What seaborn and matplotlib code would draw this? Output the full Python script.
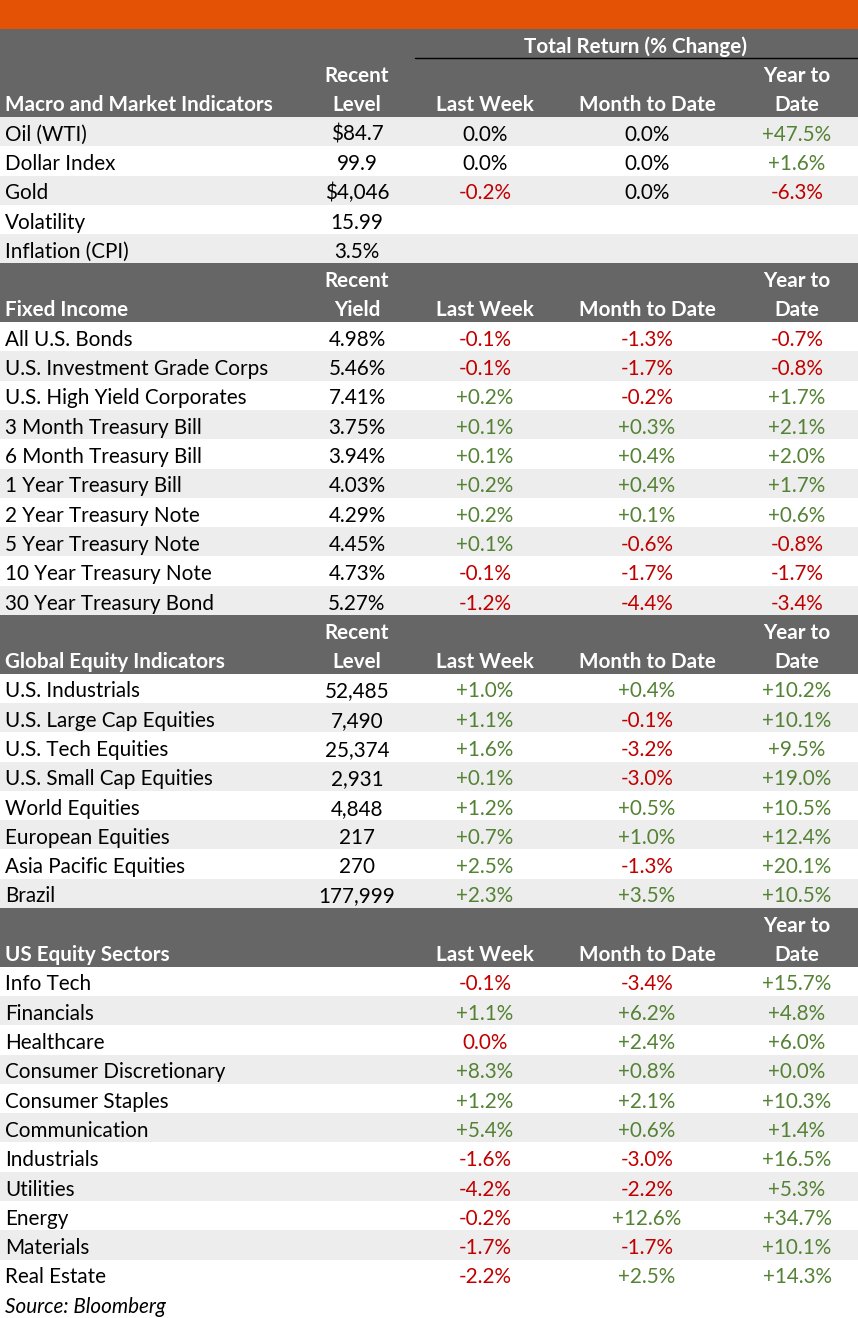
import matplotlib
matplotlib.use("Agg")
import matplotlib.pyplot as plt
import seaborn as sns

# Section 1: macro and market indicators
macro_labels = ["Oil (WTI)", "Dollar Index", "Gold", "Volatility", "Inflation (CPI)"]
macro_recent = ["$84.7", "99.9", "$4,046", "15.99", "3.5%"]
macro_lw = ["0.0%", "0.0%", "-0.2%", "", ""]
macro_mtd = ["0.0%", "0.0%", "0.0%", "", ""]
macro_ytd = ["+47.5%", "+1.6%", "-6.3%", "", ""]

# Section 2: fixed income
fi_labels = ["All U.S. Bonds", "U.S. Investment Grade Corps", "U.S. High Yield Corporates",
             "3 Month Treasury Bill", "6 Month Treasury Bill", "1 Year Treasury Bill",
             "2 Year Treasury Note", "5 Year Treasury Note", "10 Year Treasury Note",
             "30 Year Treasury Bond"]
fi_recent = ["4.98%", "5.46%", "7.41%", "3.75%", "3.94%", "4.03%", "4.29%", "4.45%", "4.73%", "5.27%"]
fi_lw = ["-0.1%", "-0.1%", "+0.2%", "+0.1%", "+0.1%", "+0.2%", "+0.2%", "+0.1%", "-0.1%", "-1.2%"]
fi_mtd = ["-1.3%", "-1.7%", "-0.2%", "+0.3%", "+0.4%", "+0.4%", "+0.1%", "-0.6%", "-1.7%", "-4.4%"]
fi_ytd = ["-0.7%", "-0.8%", "+1.7%", "+2.1%", "+2.0%", "+1.7%", "+0.6%", "-0.8%", "-1.7%", "-3.4%"]

# Section 3: global equity indicators
eq_labels = ["U.S. Industrials", "U.S. Large Cap Equities", "U.S. Tech Equities",
             "U.S. Small Cap Equities", "World Equities", "European Equities",
             "Asia Pacific Equities", "Brazil"]
eq_recent = ["52,485", "7,490", "25,374", "2,931", "4,848", "217", "270", "177,999"]
eq_lw = ["+1.0%", "+1.1%", "+1.6%", "+0.1%", "+1.2%", "+0.7%", "+2.5%", "+2.3%"]
eq_mtd = ["+0.4%", "-0.1%", "-3.2%", "-3.0%", "+0.5%", "+1.0%", "-1.3%", "+3.5%"]
eq_ytd = ["+10.2%", "+10.1%", "+9.5%", "+19.0%", "+10.5%", "+12.4%", "+20.1%", "+10.5%"]

# Section 4: US equity sectors
sec_labels = ["Info Tech", "Financials", "Healthcare", "Consumer Discretionary",
              "Consumer Staples", "Communication", "Industrials", "Utilities",
              "Energy", "Materials", "Real Estate"]
sec_recent = [""] * 11
sec_lw = ["-0.1%", "+1.1%", "0.0%", "+8.3%", "+1.2%", "+5.4%", "-1.6%", "-4.2%", "-0.2%", "-1.7%", "-2.2%"]
sec_mtd = ["-3.4%", "+6.2%", "+2.4%", "+0.8%", "+2.1%", "+0.6%", "-3.0%", "-2.2%", "+12.6%", "-1.7%", "+2.5%"]
sec_ytd = ["+15.7%", "+4.8%", "+6.0%", "+0.0%", "+10.3%", "+1.4%", "+16.5%", "+5.3%", "+34.7%", "+10.1%", "+14.3%"]

# zero values shown in red in the source
red_zero = [("Healthcare", "lw")]

sections = [
    ("Macro and Market Indicators", "Level", macro_labels, macro_recent, macro_lw, macro_mtd, macro_ytd, 0),
    ("Fixed Income", "Yield", fi_labels, fi_recent, fi_lw, fi_mtd, fi_ytd, 1),
    ("Global Equity Indicators", "Level", eq_labels, eq_recent, eq_lw, eq_mtd, eq_ytd, 1),
    ("US Equity Sectors", None, sec_labels, sec_recent, sec_lw, sec_mtd, sec_ytd, 1),
]

ORANGE = "#E35205"
DARK = "#666666"
BAND = "#EDEDED"
GREEN = "#548235"
RED = "#C00000"

sns.set_theme(style="white")
plt.rcParams["font.family"] = ["Lato", "DejaVu Sans"]

W, H = 858, 1318
fig = plt.figure(figsize=(W / 100, H / 100), dpi=100)
ax = fig.add_axes([0, 0, 1, 1])
ax.set_xlim(0, W)
ax.set_ylim(H, 0)
ax.axis("off")

top0 = 29
rh = 29.3
x_label, x_recent, x_lw, x_mtd, x_ytd = 5, 357, 485, 647, 797
fs = 14.9


def row_y(i):
    return top0 + i * rh


def base(i):
    # text baseline inside row i
    return row_y(i + 1) - 5.5


def cell_color(val, label, col):
    if (label, col) in red_zero:
        return RED
    if val.startswith("+"):
        return GREEN
    if val.startswith("-"):
        return RED
    return "black"


ax.axhspan(0, top0, color=ORANGE, lw=0)

r = 0
for si, (title, recent_hdr, labels, recent, lw, mtd, ytd, first_white) in enumerate(sections):
    nh = 3 if si == 0 else 2
    ax.axhspan(row_y(r), row_y(r + nh), color=DARK, lw=0)
    hkw = dict(color="white", fontsize=fs, fontweight="bold", va="baseline")
    if si == 0:
        ax.text(635, base(r), "Total Return (% Change)", ha="center", **hkw)
        ax.plot([415, W], [row_y(r + 1), row_y(r + 1)], color="black", lw=1)
        r += 1
    ax.text(x_label, base(r + 1), title, ha="left", **hkw)
    if recent_hdr:
        ax.text(x_recent, base(r), "Recent", ha="center", **hkw)
        ax.text(x_recent, base(r + 1), recent_hdr, ha="center", **hkw)
    ax.text(x_lw, base(r + 1), "Last Week", ha="center", **hkw)
    ax.text(x_mtd, base(r + 1), "Month to Date", ha="center", **hkw)
    ax.text(x_ytd, base(r), "Year to", ha="center", **hkw)
    ax.text(x_ytd, base(r + 1), "Date", ha="center", **hkw)
    r += 2
    for k, lab in enumerate(labels):
        if (k + first_white) % 2 == 0:
            ax.axhspan(row_y(r), row_y(r + 1), color=BAND, lw=0)
        by = base(r)
        ax.text(x_label, by, lab, ha="left", va="baseline", fontsize=fs, color="black")
        ax.text(x_recent, by, recent[k], ha="center", va="baseline", fontsize=fs, color="black")
        for x, vals, col in [(x_lw, lw, "lw"), (x_mtd, mtd, "mtd"), (x_ytd, ytd, "ytd")]:
            v = vals[k]
            if v:
                ax.text(x, by, v, ha="center", va="baseline", fontsize=fs,
                        color=cell_color(v, lab, col))
        r += 1

ax.text(x_label, base(r), "Source: Bloomberg", ha="left", va="baseline",
        fontsize=fs, style="italic", color="black")

fig.savefig("out.png", dpi=100)
